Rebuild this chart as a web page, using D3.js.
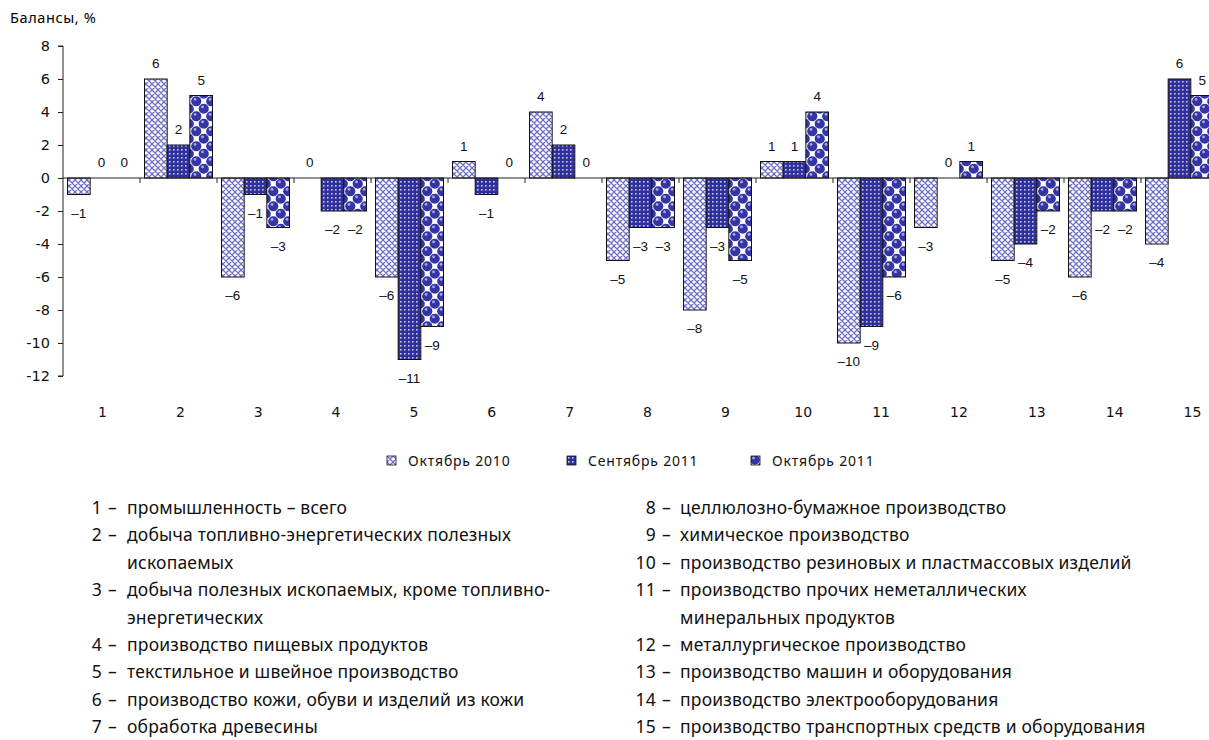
<!DOCTYPE html>
<html>
<head>
<meta charset="utf-8">
<script src="https://cdn.jsdelivr.net/npm/d3@7"></script>
<style>
  body { margin: 0; background: #fff; }
  svg { display: block; }
</style>
</head>
<body>
<div id="chart"></div>
<script>
// chart data
var categories = ['1','2','3','4','5','6','7','8','9','10','11','12','13','14','15'];
var seriesNames = ['Октябрь 2010', 'Сентябрь 2011', 'Октябрь 2011'];
var oct2010 = [-1, 6, -6, 0, -6, 1, 4, -5, -8, 1, -10, -3, -5, -6, -4];
var sep2011 = [0, 2, -1, -2, -11, -1, 2, -3, -3, 1, -9, 0, -4, -2, 6];
var oct2011 = [0, 5, -3, -2, -9, 0, 0, -3, -5, 4, -6, 1, -2, -2, 5];
var yTicks = [8, 6, 4, 2, 0, -2, -4, -6, -8, -10, -12];

var notesLeft = [
    ['1', 'промышленность – всего'],
    ['2', 'добыча топливно-энергетических полезных', 'ископаемых'],
    ['3', 'добыча полезных ископаемых, кроме топливно-', 'энергетических'],
    ['4', 'производство пищевых продуктов'],
    ['5', 'текстильное и швейное производство'],
    ['6', 'производство кожи, обуви и изделий из кожи'],
    ['7', 'обработка древесины']
];
var notesRight = [
    ['8', 'целлюлозно-бумажное производство'],
    ['9', 'химическое производство'],
    ['10', 'производство резиновых и пластмассовых изделий'],
    ['11', 'производство прочих неметаллических', 'минеральных продуктов'],
    ['12', 'металлургическое производство'],
    ['13', 'производство машин и оборудования'],
    ['14', 'производство электрооборудования'],
    ['15', 'производство транспортных средств и оборудования']
];

var seriesValues = [oct2010, sep2011, oct2011];
var width = 1209, height = 740;

var svg = d3.select('#chart').append('svg')
    .attr('width', width)
    .attr('height', height);

// fill patterns
var defs = svg.append('defs');

var p1 = defs.append('pattern').attr('id', 'pat0')
    .attr('width', 6).attr('height', 6).attr('patternUnits', 'userSpaceOnUse');
p1.append('rect').attr('width', 6).attr('height', 6).attr('fill', '#fff');
p1.append('path').attr('d', 'M0,0L6,6M6,0L0,6M-1,5L1,7M5,-1L7,1M-1,1L1,-1M5,7L7,5')
    .attr('stroke', '#7070c8').attr('stroke-width', 1.3);

var p2 = defs.append('pattern').attr('id', 'pat1')
    .attr('width', 4).attr('height', 4).attr('patternUnits', 'userSpaceOnUse');
p2.append('rect').attr('width', 4).attr('height', 4).attr('fill', '#30309c');
p2.append('rect').attr('x', 1).attr('y', 1).attr('width', 1.6).attr('height', 1.6).attr('fill', '#c4c4ee');

var p3 = defs.append('pattern').attr('id', 'pat2')
    .attr('width', 15).attr('height', 15).attr('patternUnits', 'userSpaceOnUse');
p3.append('rect').attr('width', 15).attr('height', 15).attr('fill', '#fff');
[[3.75, 3.75], [11.25, 11.25], [11.25, -3.75], [-3.75, 11.25], [18.75, 3.75], [3.75, 18.75]].forEach(function (c) {
    p3.append('circle').attr('cx', c[0]).attr('cy', c[1]).attr('r', 5.1).attr('fill', '#3434a4');
    p3.append('circle').attr('cx', c[0] - 1.2).attr('cy', c[1] - 1.8).attr('r', 1.4).attr('fill', '#a8a8e6');
});

// scales
var x0 = d3.scaleBand().domain(categories).range([63, 1218]).padding(0);
var x1 = d3.scaleBand().domain([0, 1, 2]).range([4.5, 72.5]).padding(0);
var y = d3.scaleLinear().domain([-12, 8]).range([376, 46]);
// category labels in the original are spaced a little wider than the bands
var xLab = d3.scalePoint().domain(categories).range([102, 1192]);

// title
svg.append('text')
    .attr('x', 10).attr('y', 23)
    .style('font-family', '"Noto Sans", sans-serif')
    .style('font-size', '14.5px')
    .style('letter-spacing', '0.6px')
    .text('Балансы, %');

// y axis
var yAxis = svg.append('g')
    .attr('transform', 'translate(63,0)')
    .call(d3.axisLeft(y).tickValues(yTicks).tickSize(5).tickPadding(8).tickFormat(d3.format('d')));
yAxis.select('.domain').attr('d', 'M-5,' + y(8) + 'H0V' + y(-12) + 'H-5').attr('stroke', '#222');
yAxis.selectAll('.tick line').attr('stroke', '#222');
yAxis.selectAll('.tick text')
    .style('font-family', '"DejaVu Sans", sans-serif')
    .style('font-size', '14.5px')
    .attr('fill', '#111')
    .text(function (d) { return d < 0 ? '-' + Math.abs(d) : d; });

// bars
var groups = svg.append('g').selectAll('g')
    .data(categories)
    .enter().append('g')
    .attr('transform', function (d) { return 'translate(' + x0(d) + ',0)'; });

groups.selectAll('rect')
    .data(function (d, i) { return seriesValues.map(function (s, k) { return {k: k, v: s[i]}; }); })
    .enter().append('rect')
    .filter(function (d) { return d.v !== 0; })
    .attr('x', function (d) { return x1(d.k); })
    .attr('width', x1.bandwidth())
    .attr('y', function (d) { return y(Math.max(0, d.v)); })
    .attr('height', function (d) { return Math.abs(y(d.v) - y(0)); })
    .attr('fill', function (d) { return 'url(#pat' + d.k + ')'; })
    .attr('stroke', '#111')
    .attr('stroke-width', 1);

// value labels
groups.selectAll('text')
    .data(function (d, i) { return seriesValues.map(function (s, k) { return {k: k, v: s[i]}; }); })
    .enter().append('text')
    .attr('x', function (d) { return x1(d.k) + x1.bandwidth() / 2; })
    .attr('y', function (d) { return d.v < 0 ? y(d.v) + 23 : y(d.v) - 11; })
    .attr('text-anchor', 'middle')
    .style('font-family', '"Liberation Sans", Arial, sans-serif')
    .style('font-size', '13.5px')
    .attr('fill', '#111')
    .text(function (d) { return d.v < 0 ? '\u2013' + Math.abs(d.v) : d.v; });

// x axis (zero line with ticks between categories)
var xAxisG = svg.append('g');
xAxisG.append('line')
    .attr('x1', 63).attr('x2', 1218)
    .attr('y1', y(0)).attr('y2', y(0))
    .attr('stroke', '#222');
xAxisG.selectAll('.xt')
    .data(categories.slice(1))
    .enter().append('line')
    .attr('class', 'xt')
    .attr('x1', function (d) { return x0(d); })
    .attr('x2', function (d) { return x0(d); })
    .attr('y1', y(0)).attr('y2', y(0) + 5)
    .attr('stroke', '#222');

svg.append('g')
    .attr('transform', 'translate(0,' + 414 + ')')
    .call(d3.axisBottom(xLab).tickSize(0))
    .call(function (g) { g.select('.domain').remove(); })
    .selectAll('text')
    .style('font-family', '"DejaVu Sans", sans-serif')
    .style('font-size', '14px')
    .attr('fill', '#111')
    .attr('dy', 0);

// legend
var legendX = [387, 567, 751];
var legend = svg.append('g').selectAll('g')
    .data(seriesNames)
    .enter().append('g')
    .attr('transform', function (d, i) { return 'translate(' + legendX[i] + ',456)'; });
legend.append('rect')
    .attr('width', 9).attr('height', 9)
    .attr('fill', function (d, i) { return 'url(#pat' + i + ')'; })
    .attr('stroke', '#111').attr('stroke-width', 0.8);
legend.append('text')
    .attr('x', 21).attr('y', 10)
    .style('font-family', '"Noto Sans", sans-serif')
    .style('font-size', '14px')
    .style('letter-spacing', '0.8px')
    .attr('fill', '#111')
    .text(function (d) { return d; });

// notes below the chart
var lineH = 27.4;
function drawNotes(list, numRight, textX) {
    var row = 0;
    var g = svg.append('g')
        .style('font-family', '"Noto Sans", sans-serif')
        .style('font-size', '17.5px')
        .style('letter-spacing', '0.2px')
        .attr('fill', '#111');
    list.forEach(function (n) {
        var yy = 514 + row * lineH;
        g.append('text').attr('x', numRight).attr('y', yy)
            .attr('text-anchor', 'end').text(n[0]);
        g.append('text').attr('x', numRight + 6).attr('y', yy).text('\u2013');
        g.append('text').attr('x', textX).attr('y', yy).text(n[1]);
        row++;
        if (n[2]) {
            g.append('text').attr('x', textX).attr('y', 514 + row * lineH).text(n[2]);
            row++;
        }
    });
}
drawNotes(notesLeft, 102, 127);
drawNotes(notesRight, 656, 680);
</script>
</body>
</html>
